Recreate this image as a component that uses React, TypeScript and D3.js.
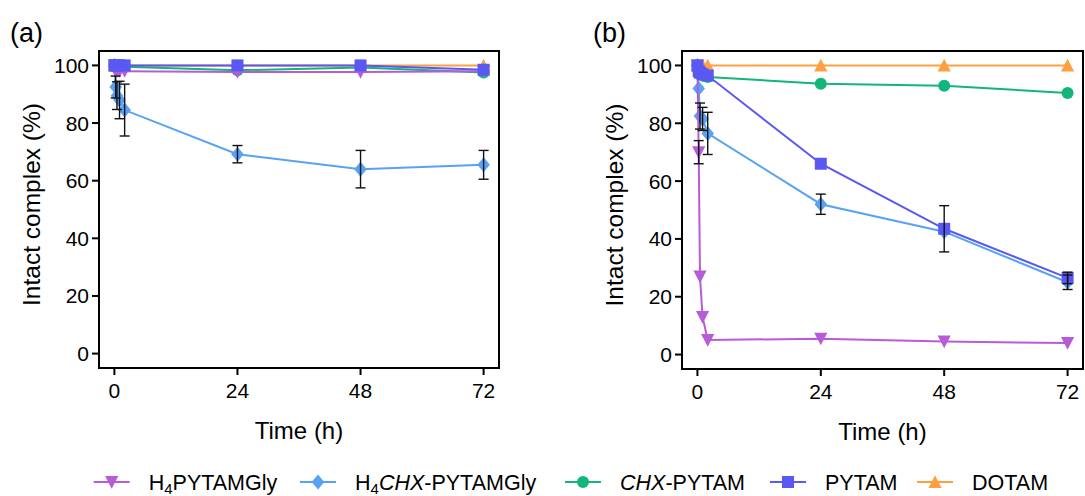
import React from "react";
import * as d3 from "d3";

// ---- data ----
const timePoints = [0, 0.25, 0.5, 1, 2, 24, 48, 72];
const xTicks = [0, 24, 48, 72];
const yTicks = [0, 20, 40, 60, 80, 100];

const seriesNames = ["H4PYTAMGly", "H4CHX-PYTAMGly", "CHX-PYTAM", "PYTAM", "DOTAM"];
const seriesColors = ["#b75cd6", "#58a2f4", "#12b57a", "#5a58f2", "#ffa040"];
const seriesShapes = ["triDown", "diamond", "circle", "square", "triUp"];

// panel (a)
const a_H4PYTAMGly = [100, 98, 98, 98, 98, 97.7, 97.7, 98];
const a_H4PYTAMGlyErr = [0, 0, 0, 0, 0, 0, 0, 0];
const a_H4CHX = [100, 92.5, 89.5, 88, 84.5, 69.2, 64, 65.5];
const a_H4CHXErr = [0, 3.8, 4.8, 6.5, 9, 3, 6.5, 5];
const a_CHX = [100, 99.5, 99.5, 99.5, 99.5, 98.3, 99.3, 97.5];
const a_CHXErr = [0, 0, 0, 0, 0, 0, 0, 0];
const a_PYTAM = [100, 100, 100, 100, 100, 100, 100, 98.5];
const a_PYTAMErr = [0, 0, 0, 0, 0, 0, 0, 0];
const a_DOTAM = [100, 100, 100, 100, 100, 100, 100, 100];
const a_DOTAMErr = [0, 0, 0, 0, 0, 0, 0, 0];

// panel (b)
const b_H4PYTAMGly = [100, 70, 27, 13, 5, 5.5, 4.5, 4];
const b_H4PYTAMGlyErr = [0, 4, 0, 0, 0, 0, 0, 0];
const b_H4CHX = [100, 92, 82.5, 81.5, 76.5, 52, 42.5, 25];
const b_H4CHXErr = [0, 0, 4.5, 4, 7.3, 3.5, 0, 2.5];
const b_CHX = [100, 98, 97, 96.5, 96, 93.7, 93, 90.5];
const b_CHXErr = [0, 0, 0, 0, 0, 0, 0, 0];
const b_PYTAM = [100, 98, 97.5, 97, 96.5, 66, 43.5, 26.5];
const b_PYTAMErr = [0, 0, 0, 0, 0, 0, 8, 2];
const b_DOTAM = [100, 100, 100, 100, 100, 100, 100, 100];
const b_DOTAMErr = [0, 0, 0, 0, 0, 0, 0, 0];

const panelA = [
  [a_H4PYTAMGly, a_H4PYTAMGlyErr],
  [a_H4CHX, a_H4CHXErr],
  [a_CHX, a_CHXErr],
  [a_PYTAM, a_PYTAMErr],
  [a_DOTAM, a_DOTAMErr],
];
const panelB = [
  [b_H4PYTAMGly, b_H4PYTAMGlyErr],
  [b_H4CHX, b_H4CHXErr],
  [b_CHX, b_CHXErr],
  [b_PYTAM, b_PYTAMErr],
  [b_DOTAM, b_DOTAMErr],
];

const FONT = "'Liberation Sans', Arial, Helvetica, sans-serif";
const drawOrder = [4, 2, 1, 0, 3];

function Marker({ shape, x, y, color }: { shape: string; x: number; y: number; color: string }) {
  const s = 12;
  const h = s / 2;
  if (shape === "square") return <rect x={x - h} y={y - h} width={s} height={s} fill={color} />;
  if (shape === "circle") return <circle cx={x} cy={y} r={6} fill={color} />;
  if (shape === "diamond")
    return <path d={`M${x},${y - 7.5}L${x + 6.3},${y}L${x},${y + 7.5}L${x - 6.3},${y}Z`} fill={color} />;
  if (shape === "triUp")
    return <path d={`M${x},${y - h - 0.7}L${x + h + 0.6},${y + h}L${x - h - 0.6},${y + h}Z`} fill={color} />;
  return <path d={`M${x},${y + h + 0.7}L${x + h + 0.6},${y - h}L${x - h - 0.6},${y - h}Z`} fill={color} />;
}

function Panel({ left, right, top, bottom, data, label }: any) {
  const x = d3.scaleLinear().domain([-3, 75]).range([left, right]);
  const y = d3.scaleLinear().domain([-5, 105]).range([bottom, top]);
  const line = d3
    .line<number>()
    .x((_, i) => x(timePoints[i]))
    .y((d) => y(d));
  return (
    <g>
      <text x={left - 89} y={42} fontSize={27} fontFamily={FONT} fill="#000">
        {label}
      </text>
      {drawOrder.map((si) => {
        const [vals] = data[si];
        return (
          <g key={si}>
            <path d={line(vals) || ""} fill="none" stroke={seriesColors[si]} strokeWidth={2} />
            {vals.map((v: number, i: number) => (
              <Marker key={i} shape={seriesShapes[si]} x={x(timePoints[i])} y={y(v)} color={seriesColors[si]} />
            ))}
          </g>
        );
      })}
      {drawOrder.map((si) => {
        const [vals, errs] = data[si];
        return (
          <g key={"e" + si}>
            {vals.map((v: number, i: number) =>
              errs[i] > 0 ? (
                <g key={i} stroke="#111" strokeWidth={1.4}>
                  <line x1={x(timePoints[i])} x2={x(timePoints[i])} y1={y(v - errs[i])} y2={y(v + errs[i])} />
                  <line x1={x(timePoints[i]) - 5} x2={x(timePoints[i]) + 5} y1={y(v - errs[i])} y2={y(v - errs[i])} />
                  <line x1={x(timePoints[i]) - 5} x2={x(timePoints[i]) + 5} y1={y(v + errs[i])} y2={y(v + errs[i])} />
                </g>
              ) : null
            )}
          </g>
        );
      })}
      <rect x={left} y={top} width={right - left} height={bottom - top} fill="none" stroke="#000" strokeWidth={2} />
      {yTicks.map((t) => (
        <g key={"y" + t}>
          <line x1={left - 7} x2={left} y1={y(t)} y2={y(t)} stroke="#000" strokeWidth={2} />
          <text
            x={left - 10}
            y={y(t) + 7.5}
            textAnchor="end"
            fontSize={21}
            fontFamily={FONT}
            fill="#000"
          >
            {t}
          </text>
        </g>
      ))}
      {xTicks.map((t) => (
        <g key={"x" + t}>
          <line x1={x(t)} x2={x(t)} y1={bottom} y2={bottom + 7} stroke="#000" strokeWidth={2} />
          <text x={x(t)} y={bottom + 29.5} textAnchor="middle" fontSize={21} fontFamily={FONT} fill="#000">
            {t}
          </text>
        </g>
      ))}
      <text
        x={(left + right) / 2}
        y={bottom + 71}
        textAnchor="middle"
        fontSize={24}
        fontFamily={FONT}
        fill="#000"
      >
        Time (h)
      </text>
      <text
        transform={`translate(${left - 59},${(y(0) + y(100)) / 2 - 5}) rotate(-90)`}
        textAnchor="middle"
        fontSize={24.5}
        fontFamily={FONT}
        fill="#000"
      >
        Intact complex (%)
      </text>
    </g>
  );
}

const legendMarkerX = [111.7, 318, 583, 788, 935];

function LegendLabel({ i }: { i: number }) {
  if (i === 0)
    return (
      <>
        H<tspan dy={3.5} fontSize={15}>4</tspan>
        <tspan dy={-3.5}>PYTAMGly</tspan>
      </>
    );
  if (i === 1)
    return (
      <>
        H<tspan dy={3.5} fontSize={15}>4</tspan>
        <tspan dy={-3.5} fontStyle="italic">CHX</tspan>
        <tspan>-PYTAMGly</tspan>
      </>
    );
  if (i === 2)
    return (
      <>
        <tspan fontStyle="italic">CHX</tspan>-PYTAM
      </>
    );
  return <>{seriesNames[i]}</>;
}

export default function App() {
  const ly = 482;
  return (
    <svg
      width={1085}
      height={496}
      style={{ position: "absolute", left: 0, top: 0, background: "#fff" }}
    >
      <rect width={1085} height={496} fill="#fff" />
      <Panel left={99} right={499} top={51} bottom={368} data={panelA} label="(a)" />
      <Panel left={682} right={1083} top={51} bottom={369} data={panelB} label="(b)" />
      {seriesNames.map((n, i) => (
        <g key={n}>
          <line
            x1={legendMarkerX[i] - 18}
            x2={legendMarkerX[i] + 18}
            y1={ly}
            y2={ly}
            stroke={seriesColors[i]}
            strokeWidth={2}
          />
          <Marker shape={seriesShapes[i]} x={legendMarkerX[i]} y={ly} color={seriesColors[i]} />
          <text x={legendMarkerX[i] + 37} y={ly + 8} fontSize={21.5} fontFamily={FONT} fill="#000">
            <LegendLabel i={i} />
          </text>
        </g>
      ))}
    </svg>
  );
}
